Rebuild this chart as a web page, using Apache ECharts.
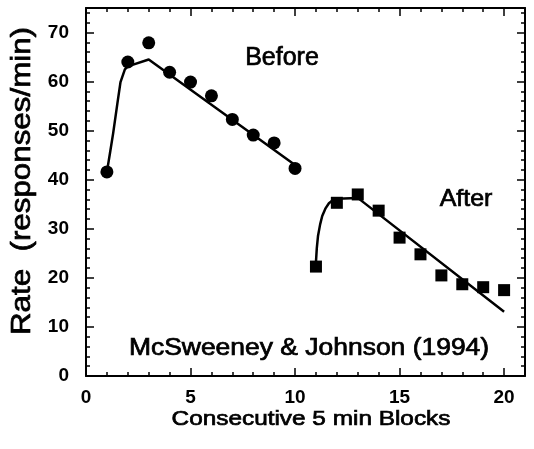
<!DOCTYPE html>
<html>
<head>
<meta charset="utf-8">
<script src="https://cdn.jsdelivr.net/npm/echarts@6/dist/echarts.min.js"></script>
<style>
  html, body { margin: 0; padding: 0; background: #fff; }
  #chart { width: 534px; height: 449px; }
</style>
</head>
<body>
<div id="chart"></div>
<script>
// observed points
const beforeBlocks = [1, 2, 3, 4, 5, 6, 7, 8, 9, 10];
const beforeRates = [41.6, 64.0, 67.9, 61.9, 59.9, 57.1, 52.3, 49.1, 47.5, 42.3];
const afterBlocks = [11, 12, 13, 14, 15, 16, 17, 18, 19, 20];
const afterRates = [22.3, 35.3, 37.0, 33.7, 28.2, 24.8, 20.5, 18.7, 18.1, 17.5];

// fitted curves
const beforeFitX = [1, 1.15, 1.3, 1.5, 1.65, 1.86, 2, 3, 10];
const beforeFitY = [41.6, 45.5, 49.5, 55.5, 59.9, 62.5, 63.1, 64.5, 43.0];
const afterFitX = [11, 11.04, 11.1, 11.2, 11.3, 11.45, 11.62, 11.8, 12, 13, 20];
const afterFitY = [23.2, 26.0, 28.6, 30.9, 32.6, 34.1, 35.2, 35.8, 36.1, 36.3, 13.1];

const xTicks = [0, 5, 10, 15, 20];
const yTicks = [0, 10, 20, 30, 40, 50, 60, 70];

const zip = (xs, ys) => xs.map((x, i) => [x, ys[i]]);

const font = "'Liberation Sans', Arial, sans-serif";
const axisLine = { show: true, onZero: false, lineStyle: { color: "#000", width: 2 } };
const tick = { show: true, inside: true, length: 8, lineStyle: { color: "#000", width: 1.5 } };
const minor = { show: true, splitNumber: 5, length: 4, lineStyle: { color: "#000", width: 1.5 } };

// heavier text, like the scanned original
const label = (text, size) => ({
  text,
  font: size + "px " + font,
  fill: "#000",
  stroke: "#000",
  lineWidth: 0.7,
  align: "center",
  verticalAlign: "middle"
});

const myChart = echarts.init(document.getElementById("chart"));
const option = {
  animation: false,
  backgroundColor: "#fff",
  grid: { left: 86, right: 9, top: 8, bottom: 73 },
  xAxis: [
    {
      type: "value",
      min: 0,
      max: 21,
      interval: 5,
      axisLine,
      axisTick: tick,
      minorTick: minor,
      splitLine: { show: false },
      axisLabel: {
        margin: 12,
        color: "#000",
        fontFamily: font,
        fontWeight: "bold",
        fontSize: 19,
        showMaxLabel: false,
        formatter: v => (xTicks.includes(v) ? String(v) : "")
      }
    },
    {
      type: "value",
      position: "top",
      min: 0,
      max: 21,
      interval: 5,
      axisLine,
      axisTick: tick,
      minorTick: minor,
      splitLine: { show: false },
      axisLabel: { show: false }
    }
  ],
  yAxis: [
    {
      type: "value",
      min: 0,
      max: 75,
      interval: 10,
      axisLine,
      axisTick: tick,
      minorTick: minor,
      splitLine: { show: false },
      axisLabel: {
        margin: 17,
        color: "#000",
        fontFamily: font,
        fontWeight: "bold",
        fontSize: 19,
        showMaxLabel: false,
        formatter: v => (yTicks.includes(v) ? String(v) : "")
      }
    },
    {
      type: "value",
      position: "right",
      min: 0,
      max: 75,
      interval: 10,
      axisLine,
      axisTick: tick,
      minorTick: minor,
      splitLine: { show: false },
      axisLabel: { show: false }
    }
  ],
  series: [
    {
      type: "line",
      data: zip(beforeFitX, beforeFitY),
      symbol: "none",
      lineStyle: { color: "#000", width: 2.5 },
      z: 2
    },
    {
      type: "line",
      data: zip(afterFitX, afterFitY),
      symbol: "none",
      lineStyle: { color: "#000", width: 2.5 },
      z: 2
    },
    {
      type: "scatter",
      data: zip(beforeBlocks, beforeRates),
      symbol: "circle",
      symbolSize: 13,
      itemStyle: { color: "#000", opacity: 1 },
      z: 3
    },
    {
      type: "scatter",
      data: zip(afterBlocks, afterRates),
      symbol: "rect",
      symbolSize: 12,
      itemStyle: { color: "#000", opacity: 1 },
      z: 3
    }
  ],
  graphic: [
    { type: "text", x: 282, y: 58, style: label("Before", 25) },
    { type: "text", x: 466, y: 199, scaleX: 1.04, style: label("After", 24) },
    { type: "text", x: 309, y: 349, scaleX: 1.15, style: label("McSweeney & Johnson (1994)", 23) },
    { type: "text", x: 311, y: 419, scaleX: 1.16, style: label("Consecutive 5 min Blocks", 21) },
    { type: "text", x: 23, y: 181, rotation: Math.PI / 2, scaleX: 1.16, style: label("Rate  (responses/min)", 27) }
  ]
};
myChart.setOption(option);
</script>
</body>
</html>
